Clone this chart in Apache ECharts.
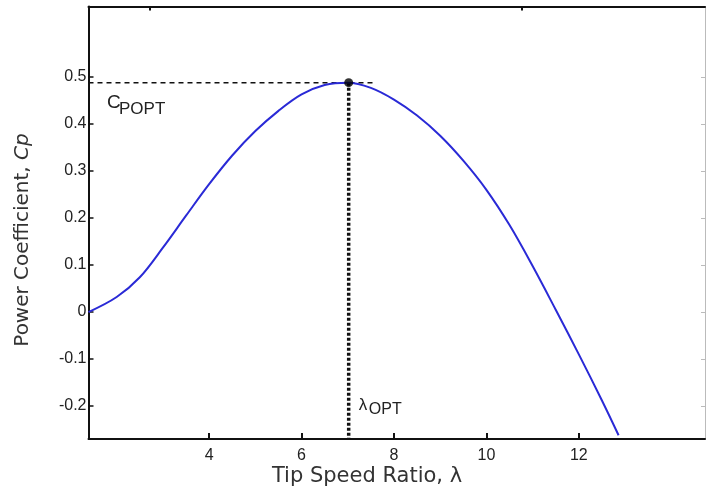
<!DOCTYPE html>
<html>
<head>
<meta charset="utf-8">
<script src="https://cdn.jsdelivr.net/npm/echarts@6/dist/echarts.min.js"></script>
<style>html,body{margin:0;padding:0;background:#fff}#c{width:707px;height:492px}</style>
</head>
<body>
<div id="c"></div>
<script>
// Data
var tsr = [1.39, 2.0, 2.5, 3.0, 3.5, 4.0, 4.5, 5.0, 5.5, 6.0, 6.5, 7.0, 7.5, 8.0, 8.5, 9.0, 9.5, 10.0, 10.5, 11.0, 11.5, 12.0, 12.5, 12.86];
var cp  = [0.0, 0.032, 0.074, 0.137, 0.205, 0.272, 0.333, 0.385, 0.428, 0.463, 0.483, 0.488, 0.477, 0.452, 0.418, 0.375, 0.322, 0.26, 0.185, 0.098, 0.005, -0.09, -0.188, -0.262];
var xTicks = [4, 6, 8, 10, 12];
var topTicks = [2.72, 10.77];
var yTicks = [-0.2, -0.1, 0, 0.1, 0.2, 0.3, 0.4, 0.5];
var lambdaOpt = 7.02;
var cpOpt = 0.488;
var hLineEnd = 7.6;
var xMin = 1.39, xMax = 14.73, yMin = -0.27, yMax = 0.65;

var chart = echarts.init(document.getElementById('c'));
var font = 'Arial, "Liberation Sans", sans-serif';
var wide = '"DejaVu Sans", sans-serif';
function yFmt(v){ return Math.abs(v) < 1e-9 ? '0' : String(Math.round(v*10)/10); }

var axisLine = {show: true, onZero: false, lineStyle: {color: '#111', width: 2}};
chart.setOption({
  animation: false,
  backgroundColor: '#fff',
  grid: {left: 88.5, top: 6.5, right: 2, bottom: 53},
  xAxis: [
    {type: 'value', position: 'bottom', min: xMin, max: xMax,
     axisLine: axisLine,
     axisTick: {show: true, inside: true, length: 6, customValues: xTicks, lineStyle: {color: '#111', width: 2}},
     axisLabel: {customValues: xTicks, color: '#222', fontSize: 16, fontFamily: font, margin: 9},
     splitLine: {show: false}},
    {type: 'value', position: 'top', min: xMin, max: xMax,
     axisLine: axisLine,
     axisTick: {show: true, inside: true, length: 4, customValues: topTicks, lineStyle: {color: '#111', width: 2}},
     axisLabel: {show: false}, splitLine: {show: false}}
  ],
  yAxis: [
    {type: 'value', position: 'left', min: yMin, max: yMax,
     axisLine: axisLine,
     axisTick: {show: true, inside: true, length: 5, customValues: yTicks, lineStyle: {color: '#111', width: 1.5}},
     axisLabel: {customValues: yTicks, formatter: yFmt, color: '#222', fontSize: 16, fontFamily: font, margin: 2},
     splitLine: {show: false}},
    {type: 'value', position: 'right', min: yMin, max: yMax,
     axisLine: {show: true, onZero: false, lineStyle: {color: '#bbb', width: 1}},
     axisTick: {show: true, inside: true, length: 4, customValues: yTicks, lineStyle: {color: '#bbb', width: 1}},
     axisLabel: {show: false}, splitLine: {show: false}}
  ],
  series: [
    {type: 'line', data: tsr.map(function(x, i){ return [x, cp[i]]; }),
     smooth: 0.35, showSymbol: false, lineStyle: {color: '#2a2ad6', width: 2}, z: 3},
    {type: 'line', data: [[xMin, cpOpt], [hLineEnd, cpOpt]], showSymbol: false,
     lineStyle: {color: '#111', width: 1.5, type: [5, 4]}, z: 2},
    {type: 'line', data: [[lambdaOpt, cpOpt], [lambdaOpt, yMin]], showSymbol: false,
     lineStyle: {color: '#111', width: 3.5, type: [3, 2]}, z: 2},
    {type: 'scatter', data: [[lambdaOpt, cpOpt]], symbolSize: 9, itemStyle: {color: '#000'}, z: 5}
  ]
});

var pC = chart.convertToPixel({gridIndex: 0}, [1.79, 0.458]);
var pL = chart.convertToPixel({gridIndex: 0}, [7.24, -0.185]);
chart.setOption({
  graphic: [
    {type: 'text', left: pC[0], top: pC[1] - 3, style: {text: 'C', font: '19px ' + font, fill: '#222'}},
    {type: 'text', left: pC[0] + 12, top: pC[1] + 4, style: {text: 'POPT', font: '17px ' + font, fill: '#222'}},
    {type: 'text', left: pL[0], top: pL[1] - 2, style: {text: 'λ', font: '17px ' + font, fill: '#222'}},
    {type: 'text', left: pL[0] + 10, top: pL[1] + 3, style: {text: 'OPT', font: '16px ' + font, fill: '#222'}},
    {type: 'text', x: 367, y: 477, style: {text: 'Tip Speed Ratio, λ', font: '21px ' + wide, fill: '#333', align: 'center', verticalAlign: 'middle'}},
    {type: 'text', x: 23, y: 240, rotation: Math.PI / 2,
     style: {rich: {n: {font: '20px ' + wide, fill: '#333'}, i: {font: 'italic 20px ' + wide, fill: '#333'}},
             text: '{n|Power Coefficient, }{i|Cp}', align: 'center', verticalAlign: 'middle'}}
  ]
});
</script>
</body>
</html>
